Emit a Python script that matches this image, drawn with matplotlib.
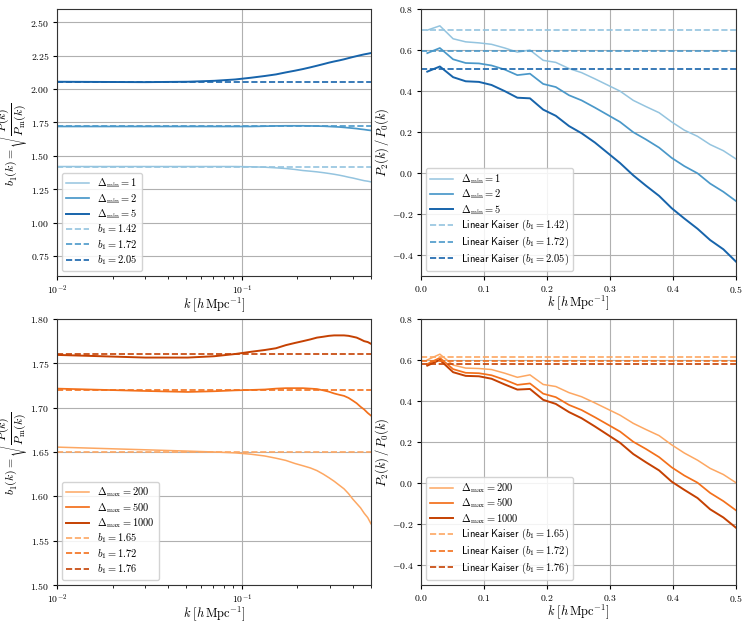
import matplotlib
matplotlib.use("Agg")
import matplotlib.pyplot as plt

plt.rcParams["font.family"] = "cmr10"
plt.rcParams["mathtext.fontset"] = "cm"
plt.rcParams["axes.formatter.use_mathtext"] = True
plt.rcParams["axes.unicode_minus"] = True

# bins en k (h/Mpc)
k = [0.010, 0.030, 0.051, 0.071, 0.092, 0.112, 0.133, 0.153, 0.173, 0.194,
     0.214, 0.235, 0.255, 0.276, 0.296, 0.316, 0.337, 0.357, 0.378, 0.398,
     0.418, 0.439, 0.459, 0.480, 0.500]

# b1(k) pour Delta_min
b1_dmin1 = [1.420, 1.420, 1.420, 1.420, 1.420, 1.418, 1.415, 1.410, 1.405, 1.398,
            1.390, 1.385, 1.380, 1.374, 1.368, 1.362, 1.355, 1.348, 1.340, 1.334,
            1.327, 1.320, 1.314, 1.310, 1.305]
b1_dmin2 = [1.720, 1.720, 1.720, 1.720, 1.720, 1.720, 1.722, 1.724, 1.725, 1.725,
            1.725, 1.724, 1.723, 1.722, 1.720, 1.718, 1.716, 1.713, 1.710, 1.707,
            1.704, 1.700, 1.697, 1.693, 1.690]
b1_dmin5 = [2.055, 2.052, 2.055, 2.062, 2.072, 2.085, 2.098, 2.110, 2.125, 2.138,
            2.150, 2.163, 2.175, 2.187, 2.198, 2.207, 2.215, 2.223, 2.232, 2.240,
            2.247, 2.254, 2.260, 2.265, 2.270]
b1_fit_dmin = [1.42, 1.72, 2.05]

# P2/P0 pour Delta_min
r_dmin1 = [0.697, 0.718, 0.655, 0.640, 0.635, 0.628, 0.610, 0.590, 0.600, 0.550,
           0.540, 0.510, 0.490, 0.460, 0.430, 0.400, 0.355, 0.325, 0.295, 0.250,
           0.210, 0.180, 0.140, 0.110, 0.070]
r_dmin2 = [0.585, 0.610, 0.555, 0.537, 0.535, 0.525, 0.505, 0.478, 0.485, 0.435,
           0.420, 0.380, 0.355, 0.320, 0.285, 0.250, 0.200, 0.165, 0.125, 0.075,
           0.035, 0.000, -0.050, -0.090, -0.135]
r_dmin5 = [0.495, 0.520, 0.468, 0.448, 0.445, 0.430, 0.400, 0.368, 0.365, 0.310,
           0.280, 0.230, 0.195, 0.150, 0.100, 0.050, -0.010, -0.060, -0.110, -0.170,
           -0.220, -0.270, -0.325, -0.370, -0.430]
kaiser_dmin = [0.699, 0.594, 0.510]

# b1(k) pour Delta_max
b1_dmax200 = [1.6555, 1.6525, 1.651, 1.650, 1.649, 1.6475, 1.6455, 1.643, 1.6405, 1.637,
              1.6345, 1.632, 1.629, 1.625, 1.621, 1.617, 1.6125, 1.6085, 1.603, 1.597,
              1.592, 1.587, 1.581, 1.576, 1.569]
b1_dmax500 = [1.7215, 1.7188, 1.7177, 1.7185, 1.7195, 1.720, 1.7205, 1.7215, 1.722, 1.722,
              1.722, 1.7215, 1.721, 1.7195, 1.718, 1.716, 1.7145, 1.7133, 1.711, 1.708,
              1.705, 1.701, 1.698, 1.694, 1.691]
b1_dmax1000 = [1.7595, 1.7565, 1.7565, 1.758, 1.7605, 1.763, 1.765, 1.767, 1.7705, 1.773,
               1.775, 1.777, 1.779, 1.780, 1.781, 1.7815, 1.7815, 1.7815, 1.781, 1.780,
               1.779, 1.777, 1.775, 1.774, 1.772]
b1_fit_dmax = [1.65, 1.72, 1.76]

# P2/P0 pour Delta_max
r_dmax200 = [0.600, 0.628, 0.575, 0.560, 0.558, 0.553, 0.535, 0.515, 0.527, 0.480,
             0.470, 0.440, 0.420, 0.390, 0.360, 0.330, 0.290, 0.260, 0.230, 0.185,
             0.145, 0.110, 0.070, 0.040, 0.000]
r_dmax500 = [0.580, 0.610, 0.555, 0.537, 0.535, 0.525, 0.503, 0.478, 0.485, 0.435,
             0.418, 0.380, 0.355, 0.320, 0.285, 0.250, 0.200, 0.165, 0.125, 0.075,
             0.035, 0.000, -0.050, -0.090, -0.135]
r_dmax1000 = [0.572, 0.600, 0.540, 0.522, 0.520, 0.508, 0.480, 0.455, 0.458, 0.405,
              0.385, 0.345, 0.315, 0.275, 0.235, 0.195, 0.140, 0.100, 0.060, 0.005,
              -0.035, -0.075, -0.130, -0.170, -0.220]
kaiser_dmax = [0.615, 0.594, 0.582]

dmin_labels = ["1", "2", "5"]
dmax_labels = ["200", "500", "1000"]

blues = plt.cm.Blues([0.4, 0.6, 0.8])
oranges = plt.cm.Oranges([0.4, 0.6, 0.8])

B1_LABEL = r"$b_1(k) = \sqrt{\dfrac{P(k)}{P_{\rm m}(k)}}$"
K_LABEL = r"$k\;[h\,{\rm Mpc}^{-1}]$"
R_LABEL = r"$P_2(k)\,/\,P_0(k)$"
LW = [1.1, 1.25, 1.4]
LAB_FS = 9
TICK_FS = 7
LEG_FS = 7.5


def style_axes(ax, xlab_y):
    ax.grid(True, which="major", color="#b0b0b0", lw=0.8)
    ax.tick_params(labelsize=TICK_FS, length=3, pad=2.5)
    ax.tick_params(which="minor", length=1.8)
    for sp in ax.spines.values():
        sp.set_color("#333333")
    ax.xaxis.set_label_coords(0.5, xlab_y)


def add_legend(ax):
    ax.legend(loc="lower left", fontsize=LEG_FS, handlelength=2.2, framealpha=0.85,
              borderaxespad=0.45, labelspacing=0.15)


def bias_panel(ax, curves, fits, colors, tag, names, ylim, yticks):
    for y, c, n, lw in zip(curves, colors, names, LW):
        ax.plot(k, y, color=c, lw=lw, label=r"$\Delta_{\rm %s} = %s$" % (tag, n))
    for b, c in zip(fits, colors):
        ax.axhline(b, color=c, ls="--", lw=1.2, label=r"$b_1 = %.2f$" % b)
    ax.set_xscale("log")
    ax.set_xlim(k[0], k[-1])
    ax.set_ylim(*ylim)
    ax.set_yticks(yticks)
    ax.set_xlabel(K_LABEL, fontsize=LAB_FS)
    ax.set_ylabel(B1_LABEL, fontsize=8.5)
    style_axes(ax, -0.072)
    ax.yaxis.set_label_coords(-0.086, 0.5)
    add_legend(ax)


def ratio_panel(ax, curves, kaiser, fits, colors, tag, names):
    for y, c, n, lw in zip(curves, colors, names, LW):
        ax.plot(k, y, color=c, lw=lw, label=r"$\Delta_{\rm %s} = %s$" % (tag, n))
    for r, b, c in zip(kaiser, fits, colors):
        ax.axhline(r, color=c, ls="--", lw=1.2,
                   label=r"$\mathsf{Linear\ Kaiser}$ ($b_1 = %.2f$)" % b)
    ax.set_xlim(0.0, 0.5)
    ax.set_ylim(-0.5, 0.8)
    ax.set_yticks([-0.4, -0.2, 0.0, 0.2, 0.4, 0.6, 0.8])
    ax.set_xlabel(K_LABEL, fontsize=LAB_FS)
    ax.set_ylabel(R_LABEL, fontsize=LAB_FS)
    style_axes(ax, -0.064)
    ax.yaxis.set_label_coords(-0.095, 0.5)
    add_legend(ax)


fig = plt.figure(figsize=(7.48, 6.24), dpi=100)
ax1 = fig.add_axes([0.0762, 0.5577, 0.4198, 0.4279])
ax2 = fig.add_axes([0.5628, 0.5577, 0.4211, 0.4279])
ax3 = fig.add_axes([0.0762, 0.0625, 0.4198, 0.4263])
ax4 = fig.add_axes([0.5628, 0.0625, 0.4211, 0.4263])

bias_panel(ax1, [b1_dmin1, b1_dmin2, b1_dmin5], b1_fit_dmin, blues, "min", dmin_labels,
           (0.6, 2.6), [0.75, 1.0, 1.25, 1.5, 1.75, 2.0, 2.25, 2.5])
ratio_panel(ax2, [r_dmin1, r_dmin2, r_dmin5], kaiser_dmin, b1_fit_dmin, blues, "min", dmin_labels)
bias_panel(ax3, [b1_dmax200, b1_dmax500, b1_dmax1000], b1_fit_dmax, oranges, "max", dmax_labels,
           (1.5, 1.8), [1.5, 1.55, 1.6, 1.65, 1.7, 1.75, 1.8])
ratio_panel(ax4, [r_dmax200, r_dmax500, r_dmax1000], kaiser_dmax, b1_fit_dmax, oranges, "max", dmax_labels)

fig.savefig("out.png", dpi=100)
